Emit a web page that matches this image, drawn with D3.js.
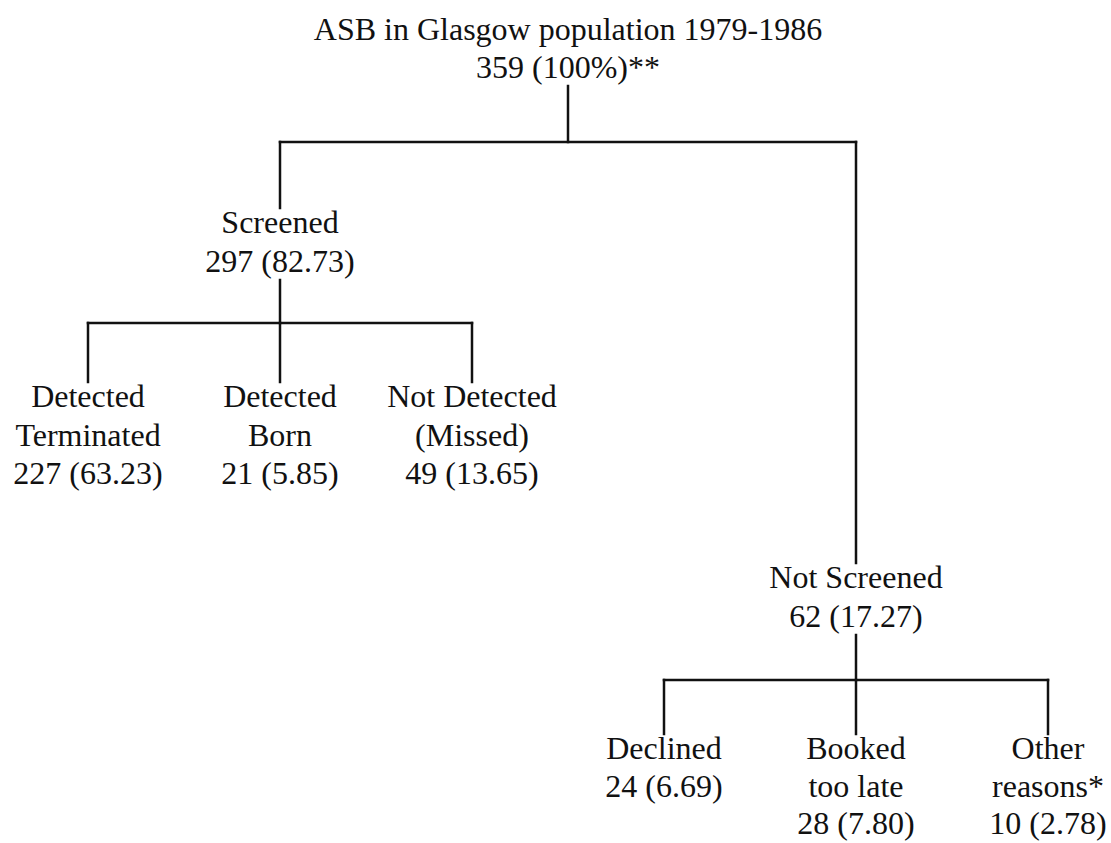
<!DOCTYPE html>
<html>
<head>
<meta charset="utf-8">
<script src="https://cdn.jsdelivr.net/npm/d3@7"></script>
<style>
  body { margin: 0; background: #fff; }
  svg text { font-family: "Liberation Serif", "Times New Roman", serif; fill: #111; }
</style>
</head>
<body>
<svg id="chart" width="1111" height="843"></svg>
<script>
// ------- Data -------
const nodeIds  = ["root", "screened", "notScreened", "detTerm", "detBorn", "missed", "declined", "late", "other"];
const parents  = [null, "root", "root", "screened", "screened", "screened", "notScreened", "notScreened", "notScreened"];
const names    = [
  ["ASB in Glasgow population 1979-1986"],
  ["Screened"],
  ["Not Screened"],
  ["Detected", "Terminated"],
  ["Detected", "Born"],
  ["Not Detected", "(Missed)"],
  ["Declined"],
  ["Booked", "too late"],
  ["Other", "reasons*"]
];
const counts   = [359, 297, 62, 227, 21, 49, 24, 28, 10];
const percents = ["100%", "82.73", "17.27", "63.23", "5.85", "13.65", "6.69", "7.80", "2.78"];
const suffix   = ["**", "", "", "", "", "", "", "", ""];
// drawing row of each node (Not Screened hangs lower than Screened)
const rows     = [0, 1, 3, 2, 2, 2, 4, 4, 4];

// ------- Layout -------
const fontSize = 32;
const rowBaseline = d3.scaleOrdinal().domain([0, 1, 2, 3, 4]).range([40, 233, 407, 588, 759]);
const rowGap = d3.scaleOrdinal().domain([0, 1, 2, 3, 4]).range([38, 39, 38.5, 39, 37.5]);
const barY = d3.scaleOrdinal().domain([0, 1, 3]).range([142, 323, 680]);

let table = nodeIds.map((id, i) => ({
  id: id,
  parent: parents[i],
  lines: names[i].concat([`${counts[i]} (${percents[i]})${suffix[i]}`]),
  row: rows[i]
}));

let root = d3.stratify().id(d => d.id).parentId(d => d.parent)(table);
// every leaf one slot apart, parents centred over their children
d3.tree().nodeSize([1, 1]).separation(() => 1)(root);

const xScale = d3.scaleLinear()
  .domain(d3.extent(root.leaves(), d => d.x))
  .range([88, 1048]);

root.each(d => {
  d.px = xScale(d.x);
  d.gap = rowGap(d.data.row);
  d.top = rowBaseline(d.data.row);
  d.bottom = d.top + (d.data.lines.length - 1) * d.gap;
});

let svg = d3.select("#chart");

// ------- Connectors -------
let links = svg.append("g")
  .attr("stroke", "#111")
  .attr("stroke-width", 2.5)
  .attr("fill", "none")
  .attr("stroke-linecap", "square");

root.descendants().filter(d => d.children).forEach(p => {
  let by = barY(p.data.row);
  let xs = p.children.map(c => c.px);
  // stem from parent label down to bar
  links.append("line")
    .attr("x1", p.px).attr("x2", p.px)
    .attr("y1", p.bottom + 8).attr("y2", by);
  // horizontal bar
  links.append("line")
    .attr("x1", d3.min(xs)).attr("x2", d3.max(xs))
    .attr("y1", by).attr("y2", by);
  // drops to each child
  p.children.forEach(c => {
    links.append("line")
      .attr("x1", c.px).attr("x2", c.px)
      .attr("y1", by).attr("y2", c.top - 25);
  });
});

// ------- Labels -------
let labels = svg.append("g").selectAll("text")
  .data(root.descendants())
  .join("text")
  .attr("text-anchor", "middle")
  .attr("font-size", fontSize)
  .attr("x", d => d.px)
  .attr("y", d => d.top);

labels.selectAll("tspan")
  .data(d => d.data.lines.map((t, i) => ({t: t, i: i, x: d.px, y: d.top, gap: d.gap})))
  .join("tspan")
  .attr("x", d => d.x)
  .attr("y", d => d.y + d.i * d.gap)
  .text(d => d.t);
</script>
</body>
</html>
